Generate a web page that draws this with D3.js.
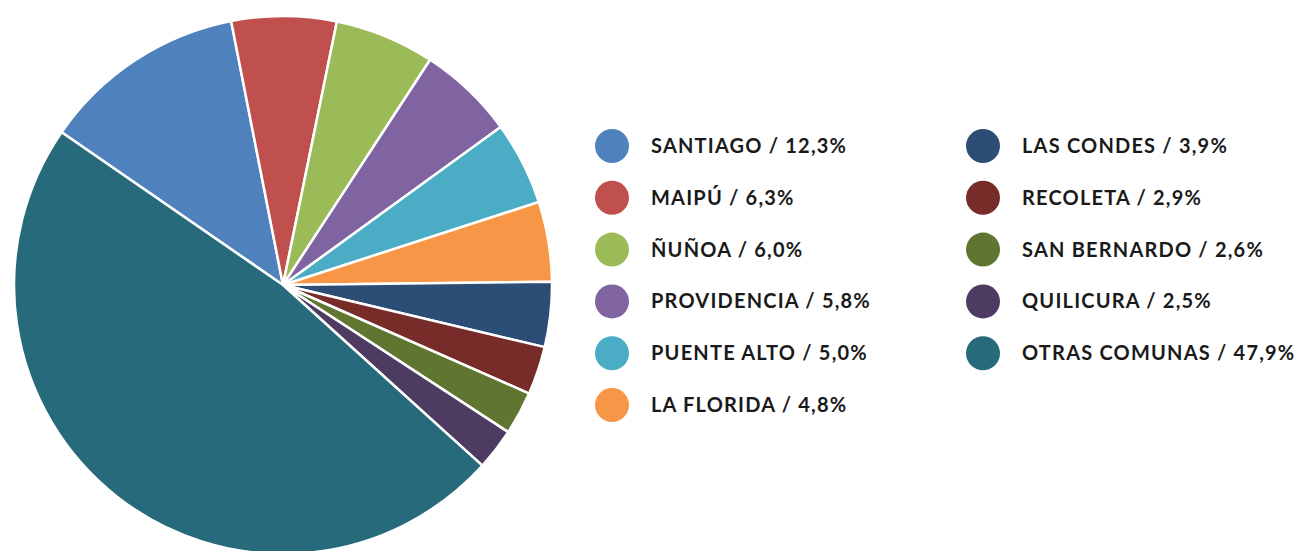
<!DOCTYPE html>
<html>
<head>
    <meta charset="utf-8">
    <title>Comunas</title>
    <script src="https://d3js.org/d3.v7.min.js"></script>
    <style>
        body { margin: 0; background: #fff; }
        .legend-label {
            font-family: Lato, "Open Sans", sans-serif;
            font-weight: 700;
            font-size: 20px;
            letter-spacing: 1.2px;
            fill: #1a1a1a;
        }
    </style>
</head>
<body>
    <div id="chart"></div>
    <script>
        // datos
        const comunas = ["SANTIAGO", "MAIPÚ", "ÑUÑOA", "PROVIDENCIA", "PUENTE ALTO", "LA FLORIDA",
                         "LAS CONDES", "RECOLETA", "SAN BERNARDO", "QUILICURA", "OTRAS COMUNAS"];
        const porcentajes = [12.3, 6.3, 6.0, 5.8, 5.0, 4.8, 3.9, 2.9, 2.6, 2.5, 47.9];
        const colores = ["#4f81bd", "#c0504d", "#9bbb59", "#8064a2", "#4bacc6", "#f79646",
                         "#2c4d75", "#772c2a", "#5f7530", "#4d3b62", "#276a7c"];

        const width = 1303, height = 551;
        const cx = 283, cy = 285, radius = 269;

        const svg = d3.select("#chart")
            .append("svg")
            .attr("width", width)
            .attr("height", height);

        const data = comunas.map((c, i) => ({name: c, value: porcentajes[i], color: colores[i]}));

        const pie = d3.pie()
            .value(d => d.value)
            .sort(null)
            .startAngle(-55.4 * Math.PI / 180)
            .endAngle(304.6 * Math.PI / 180);

        const arc = d3.arc().innerRadius(0).outerRadius(radius);

        svg.append("g")
            .attr("transform", `translate(${cx},${cy})`)
            .selectAll("path")
            .data(pie(data))
            .enter()
            .append("path")
            .attr("d", arc)
            .attr("fill", d => d.data.color)
            .attr("stroke", "#fff")
            .attr("stroke-width", 2.5)
            .attr("stroke-linejoin", "round");

        // leyenda en dos columnas
        const fmt = v => v.toFixed(1).replace(".", ",");
        const legend = svg.append("g");
        const rowH = 51.8;
        data.forEach((d, i) => {
            const col = i < 6 ? 0 : 1;
            const row = i < 6 ? i : i - 6;
            const x = col === 0 ? 612 : 983;
            const y = 146 + row * rowH;
            legend.append("circle")
                .attr("cx", x)
                .attr("cy", y)
                .attr("r", 17)
                .attr("fill", d.color);
            legend.append("text")
                .attr("class", "legend-label")
                .attr("x", x + 39)
                .attr("y", y)
                .attr("dy", "0.35em")
                .text(`${d.name} / ${fmt(d.value)}%`);
        });
    </script>
</body>
</html>
